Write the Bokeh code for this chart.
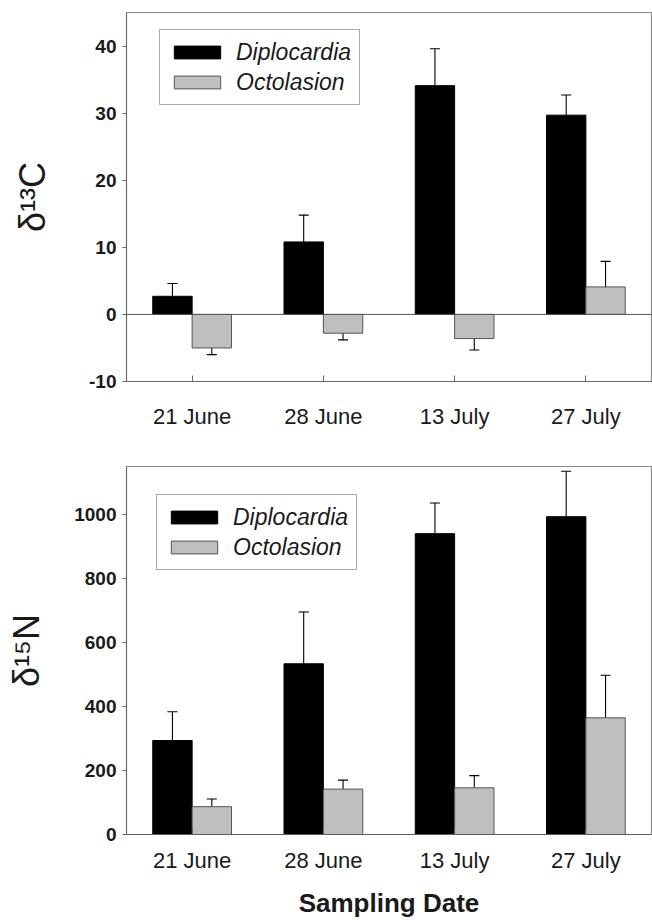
from bokeh.plotting import figure
from bokeh.models import FactorRange, Range1d, FixedTicker, Span, Legend, LegendItem, ColumnDataSource
from bokeh.transform import dodge
from bokeh.layouts import column
from bokeh.embed import file_html
from bokeh.resources import INLINE

dates = ["21 June", "28 June", "13 July", "27 July"]
species = ["Diplocardia", "Octolasion"]

c13_dip = [2.7, 10.8, 34.1, 29.7]
c13_dip_se = [1.9, 4.0, 5.5, 3.0]
c13_oct = [-5.0, -2.8, -3.6, 4.1]
c13_oct_se = [1.0, 1.0, 1.7, 3.8]

n15_dip = [294, 534, 941, 994]
n15_dip_se = [90, 162, 96, 142]
n15_oct = [87, 142, 146, 365]
n15_oct_se = [24, 28, 38, 133]

c13_ticks = [-10, 0, 10, 20, 30, 40]
n15_ticks = [0, 200, 400, 600, 800, 1000]

FONT = "Liberation Sans"
DIP_COLOR = "black"
OCT_COLOR = "#bfbfbf"


def make_panel(dip, dip_se, oct_, oct_se, yrange, ticks, ylabel, height,
               border_left, border_top, border_bottom, legend_loc, label_standoff,
               tick_standoff, xlabel=None):
    p = figure(width=652, height=height, x_range=FactorRange(*dates),
               y_range=Range1d(*yrange), output_backend="svg",
               toolbar_location=None, min_border_left=border_left,
               min_border_right=1, min_border_top=border_top,
               min_border_bottom=border_bottom)
    p.xgrid.visible = False
    p.ygrid.visible = False
    p.outline_line_color = "#8a8a8a"
    p.outline_line_width = 1.2

    def err_ends(vals, ses):
        return [v + s if v >= 0 else v - s for v, s in zip(vals, ses)]

    src = ColumnDataSource(dict(
        date=dates, dip=dip, oct=oct_,
        dip_err=err_ends(dip, dip_se), oct_err=err_ends(oct_, oct_se)))

    xd = dodge("date", -0.15, range=p.x_range)
    xo = dodge("date", 0.15, range=p.x_range)

    # error bars (stems + caps)
    p.segment(x0=xd, y0="dip", x1=xd, y1="dip_err", source=src,
              line_color="black", line_width=1.1)
    p.scatter(x=xd, y="dip_err", source=src, marker="dash", size=10,
              line_color="black", line_width=1.1)
    p.segment(x0=xo, y0="oct", x1=xo, y1="oct_err", source=src,
              line_color="black", line_width=1.1)
    p.scatter(x=xo, y="oct_err", source=src, marker="dash", size=10,
              line_color="black", line_width=1.1)

    r_dip = p.vbar(x=xd, top="dip", bottom=0, width=0.3, source=src,
                   fill_color=DIP_COLOR, line_color="black", line_width=1)
    r_oct = p.vbar(x=xo, top="oct", bottom=0, width=0.3, source=src,
                   fill_color=OCT_COLOR, line_color="#555555", line_width=1)

    p.add_layout(Span(location=0, dimension="width", line_color="#555555",
                      line_width=1))

    p.yaxis.ticker = FixedTicker(ticks=ticks)
    p.yaxis.major_label_overrides = {t: str(t) for t in ticks}
    p.yaxis.minor_tick_line_color = None
    p.yaxis.major_tick_out = 4
    p.yaxis.major_tick_in = 0
    p.yaxis.major_label_standoff = 6
    p.yaxis.major_label_text_font = FONT
    p.yaxis.major_label_text_font_style = "bold"
    p.yaxis.major_label_text_font_size = "19px"
    p.yaxis.major_label_text_color = "#1a1a1a"
    p.yaxis.axis_label = ylabel
    p.yaxis.axis_label_text_font = FONT
    p.yaxis.axis_label_text_font_style = "normal"
    p.yaxis.axis_label_text_font_size = "36px"
    p.yaxis.axis_label_text_color = "#1a1a1a"
    p.yaxis.axis_label_standoff = label_standoff
    p.yaxis.axis_line_color = "#666666"
    p.yaxis.major_tick_line_color = "#666666"

    p.xaxis.major_tick_out = 0
    p.xaxis.major_tick_in = 6
    p.xaxis.major_label_standoff = tick_standoff
    p.xaxis.major_label_text_font = FONT
    p.xaxis.major_label_text_font_size = "22px"
    p.xaxis.major_label_text_color = "#1a1a1a"
    p.xaxis.axis_line_color = "#666666"
    p.xaxis.major_tick_line_color = "#666666"
    p.xaxis.minor_tick_line_color = None
    if xlabel:
        p.xaxis.axis_label = xlabel
        p.xaxis.axis_label_text_font = FONT
        p.xaxis.axis_label_text_font_style = "bold"
        p.xaxis.axis_label_text_font_size = "26px"
        p.xaxis.axis_label_text_color = "#1a1a1a"
        p.xaxis.axis_label_standoff = 12

    legend = Legend(items=[LegendItem(label=species[0], renderers=[r_dip]),
                           LegendItem(label=species[1], renderers=[r_oct])],
                    location=legend_loc)
    legend.label_text_font = FONT
    legend.label_text_font_style = "italic"
    legend.label_text_font_size = "23px"
    legend.label_text_color = "#1a1a1a"
    legend.glyph_width = 58
    legend.glyph_height = 16
    legend.label_height = 28
    legend.label_standoff = 10
    legend.spacing = 2
    legend.padding = 8
    legend.margin = 0
    legend.border_line_color = "#555555"
    legend.border_line_width = 1.2
    legend.background_fill_alpha = 1
    p.add_layout(legend, "center")
    return p


p1 = make_panel(c13_dip, c13_dip_se, c13_oct, c13_oct_se, (-10, 45), c13_ticks,
                "δ¹³C", 440, 123, 12, 59, (33, 276), 33, 22)
p2 = make_panel(n15_dip, n15_dip_se, n15_oct, n15_oct_se, (0, 1151), n15_ticks,
                "δ¹⁵N", 480, 126, 26, 84, (30, 264), 24, 13,
                xlabel="Sampling Date")

layout = column(p1, p2, spacing=0)
open("out.html", "w").write(file_html(layout, INLINE))
